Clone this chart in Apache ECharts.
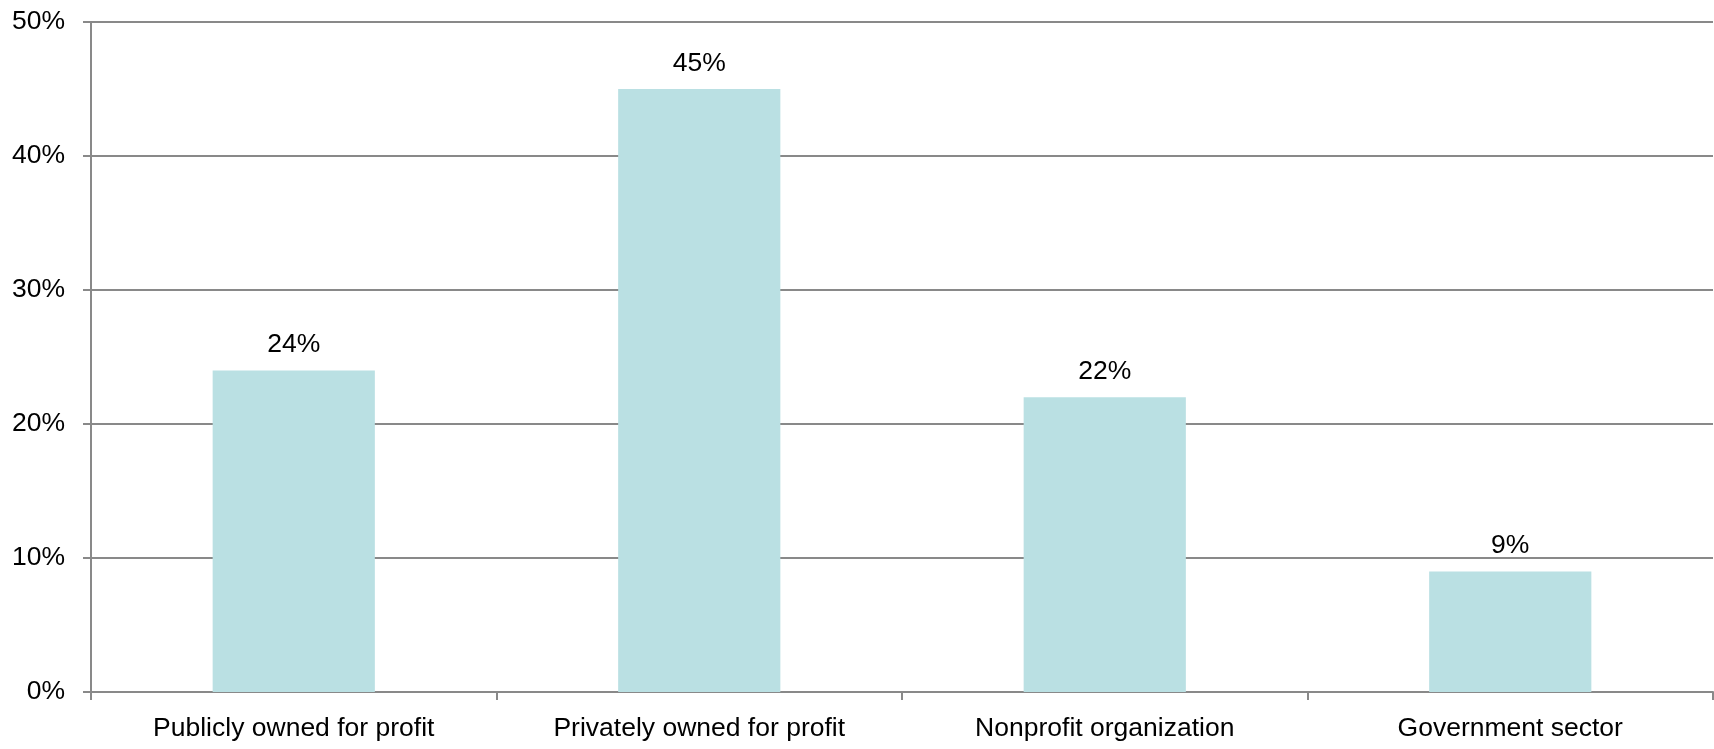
<!DOCTYPE html>
<html>
<head>
<meta charset="utf-8">
<script src="https://cdn.jsdelivr.net/npm/echarts@6/dist/echarts.min.js"></script>
<style>
html,body{margin:0;padding:0;background:#fff;}
#chart{width:1714px;height:749px;}
</style>
</head>
<body>
<div id="chart"></div>
<script>
const categories = ['Publicly owned for profit', 'Privately owned for profit', 'Nonprofit organization', 'Government sector'];
const values = [24, 45, 22, 9];
const yTicks = [0, 10, 20, 30, 40, 50];

const FONT = '"Liberation Sans", Arial, sans-serif';
const chart = echarts.init(document.getElementById('chart'));
chart.setOption({
  animation: false,
  backgroundColor: '#ffffff',
  grid: { left: 91, right: 1, top: 22, bottom: 57, containLabel: false },
  xAxis: {
    type: 'category',
    data: categories,
    axisLine: { show: true, lineStyle: { color: '#898989', width: 2 } },
    axisTick: { show: true, length: 8, alignWithLabel: false, lineStyle: { color: '#898989', width: 2 } },
    axisLabel: { color: '#000', fontFamily: FONT, fontSize: 26.5, margin: 23, interval: 0 },
    splitLine: { show: false }
  },
  yAxis: {
    type: 'value',
    min: yTicks[0],
    max: yTicks[yTicks.length - 1],
    interval: 10,
    axisLine: { show: true, lineStyle: { color: '#898989', width: 2 } },
    axisTick: { show: true, length: 8, lineStyle: { color: '#898989', width: 2 } },
    axisLabel: { color: '#000', fontFamily: FONT, fontSize: 26.5, margin: 26, formatter: '{value}%' },
    splitLine: { show: true, lineStyle: { color: '#898989', width: 2 } }
  },
  series: [{
    type: 'bar',
    data: values,
    barWidth: '40%',
    itemStyle: { color: '#BAE0E3' },
    label: {
      show: true,
      position: 'top',
      distance: 12,
      color: '#000',
      fontFamily: FONT,
      fontSize: 26.5,
      formatter: '{c}%'
    }
  }]
});
</script>
</body>
</html>
